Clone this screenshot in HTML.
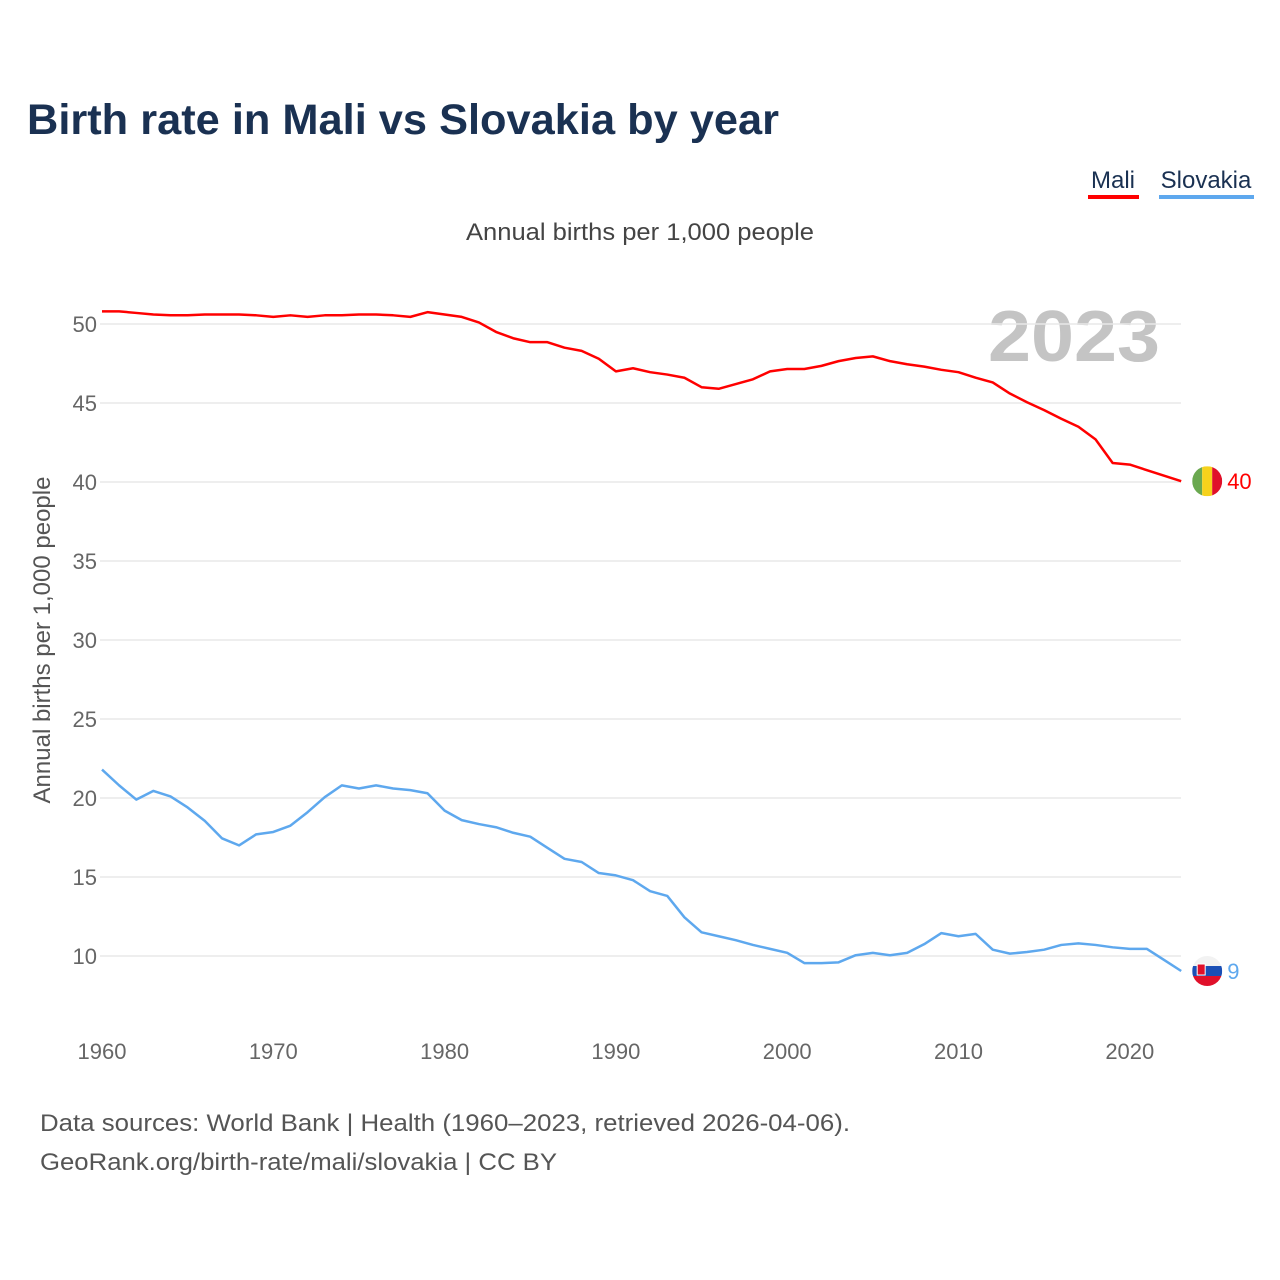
<!DOCTYPE html>
<html><head><meta charset="utf-8"><style>
body{margin:0;background:#fff;font-family:"Liberation Sans",sans-serif}
svg{display:block}
</style></head><body>
<svg id="c" width="1280" height="1280" viewBox="0 0 1280 1280">
<text x="27" y="134" font-size="43" font-weight="bold" fill="#1a3152" textLength="752" lengthAdjust="spacingAndGlyphs">Birth rate in Mali vs Slovakia by year</text>
<g><text x="1113" y="188" font-size="24" fill="#1a3152" text-anchor="middle">Mali</text><rect x="1088" y="195" width="51" height="4" fill="#f00"/></g>
<g><text x="1206" y="188" font-size="24" fill="#1a3152" text-anchor="middle">Slovakia</text><rect x="1159" y="195" width="95" height="4" fill="#5ea8ee"/></g>
<text x="466" y="240" font-size="24" fill="#444" textLength="348" lengthAdjust="spacingAndGlyphs">Annual births per 1,000 people</text>
<text x="1160" y="361" font-size="72" font-weight="bold" fill="#c4c4c4" text-anchor="end" textLength="172" lengthAdjust="spacingAndGlyphs">2023</text>
<text transform="translate(50,640) rotate(-90)" font-size="24" fill="#555" text-anchor="middle">Annual births per 1,000 people</text>
<g id="grid"></g><g id="lines"></g>
<text x="40" y="1131" font-size="24" fill="#555" textLength="810" lengthAdjust="spacingAndGlyphs">Data sources: World Bank | Health (1960–2023, retrieved 2026-04-06).</text>
<text x="40" y="1170" font-size="24" fill="#555" textLength="517" lengthAdjust="spacingAndGlyphs">GeoRank.org/birth-rate/mali/slovakia | CC BY</text>
</svg>
<script>
const years=[];for(let y=1960;y<=2023;y++)years.push(y);
const yTicks=[10,15,20,25,30,35,40,45,50];
const xTicks=[1960,1970,1980,1990,2000,2010,2020];
const mali=[50.8,50.8,50.7,50.6,50.55,50.55,50.6,50.6,50.6,50.55,50.45,50.55,50.45,50.55,50.55,50.6,50.6,50.55,50.45,50.75,50.6,50.45,50.1,49.5,49.1,48.85,48.85,48.5,48.3,47.8,47.0,47.2,46.95,46.8,46.6,46.0,45.9,46.2,46.5,47.0,47.15,47.15,47.35,47.65,47.85,47.95,47.65,47.45,47.3,47.1,46.95,46.6,46.3,45.6,45.05,44.55,44.0,43.5,42.7,41.2,41.1,40.75,40.4,40.05];
const slovakia=[21.8,20.8,19.9,20.45,20.1,19.4,18.55,17.45,17.0,17.7,17.85,18.25,19.1,20.05,20.8,20.6,20.8,20.6,20.5,20.3,19.2,18.6,18.35,18.15,17.8,17.55,16.85,16.15,15.95,15.25,15.1,14.8,14.1,13.8,12.45,11.5,11.25,11.0,10.7,10.45,10.2,9.55,9.55,9.6,10.05,10.2,10.05,10.2,10.75,11.45,11.25,11.4,10.4,10.15,10.25,10.4,10.7,10.8,10.7,10.55,10.45,10.45,9.75,9.05];
const X=y=>102+(y-1960)*17.13, Y=v=>1114-v*15.8;
const NS='http://www.w3.org/2000/svg';
function mk(t,a,p){const e=document.createElementNS(NS,t);for(const k in a)e.setAttribute(k,a[k]);p.appendChild(e);return e;}
const g=document.getElementById('grid'), L=document.getElementById('lines');
yTicks.forEach(v=>{
 const l=mk('line',{x1:100,x2:1181,y1:Y(v),y2:Y(v),stroke:'#e8e8e8','stroke-width':1.5},g);
 
 
 const t=mk('text',{x:97,y:Y(v)+8,'font-size':22,fill:'#666','text-anchor':'end'},g);t.textContent=v;
 
 
});
xTicks.forEach(v=>{
 const t=mk('text',{x:X(v),y:1059,'font-size':22,fill:'#666','text-anchor':'middle'},g);t.textContent=v;
 
 
});
function series(d,c,name){
 const p=mk('polyline',{points:d.map((v,i)=>X(years[i])+','+Y(v)).join(' '),fill:'none',stroke:c,'stroke-width':2.5,'stroke-linejoin':'round'},L);
 
 
 const last=d[d.length-1], cx=X(years[years.length-1])+26, cy=Y(last);
 return {cx,cy,last};
}
const m=series(mali,'#f00','mali');
const s=series(slovakia,'#5ea8ee','slovakia');
const mf=mk('g',{},L);
const cpm=mk('clipPath',{id:'cm'},mf);mk('circle',{cx:m.cx,cy:m.cy,r:15},cpm);
mk('rect',{x:m.cx-15,y:m.cy-15,width:10,height:30,fill:'#6aa84f','clip-path':'url(#cm)'},mf);
mk('rect',{x:m.cx-5,y:m.cy-15,width:10,height:30,fill:'#f6d21c','clip-path':'url(#cm)'},mf);
mk('rect',{x:m.cx+5,y:m.cy-15,width:10,height:30,fill:'#e0102a','clip-path':'url(#cm)'},mf);
const mt=mk('text',{x:m.cx+20,y:m.cy+8,'font-size':22,fill:'#f00'},L);mt.textContent=Math.round(m.last);


const sf=mk('g',{},L);
const cp=mk('clipPath',{id:'cs'},sf);mk('circle',{cx:s.cx,cy:s.cy,r:15},cp);
mk('rect',{x:s.cx-15,y:s.cy-15,width:30,height:10,fill:'#f2f2f2','clip-path':'url(#cs)'},sf);
mk('rect',{x:s.cx-15,y:s.cy-5,width:30,height:10,fill:'#1b4fb5','clip-path':'url(#cs)'},sf);
mk('rect',{x:s.cx-15,y:s.cy+5,width:30,height:10,fill:'#e0102a','clip-path':'url(#cs)'},sf);
mk('rect',{x:s.cx-10,y:s.cy-7,width:8,height:11,fill:'#e0102a',stroke:'#fff','stroke-width':1},sf);
const st=mk('text',{x:s.cx+20,y:s.cy+8,'font-size':22,fill:'#5ea8ee'},L);st.textContent=Math.round(s.last);


</script>
</body></html>
